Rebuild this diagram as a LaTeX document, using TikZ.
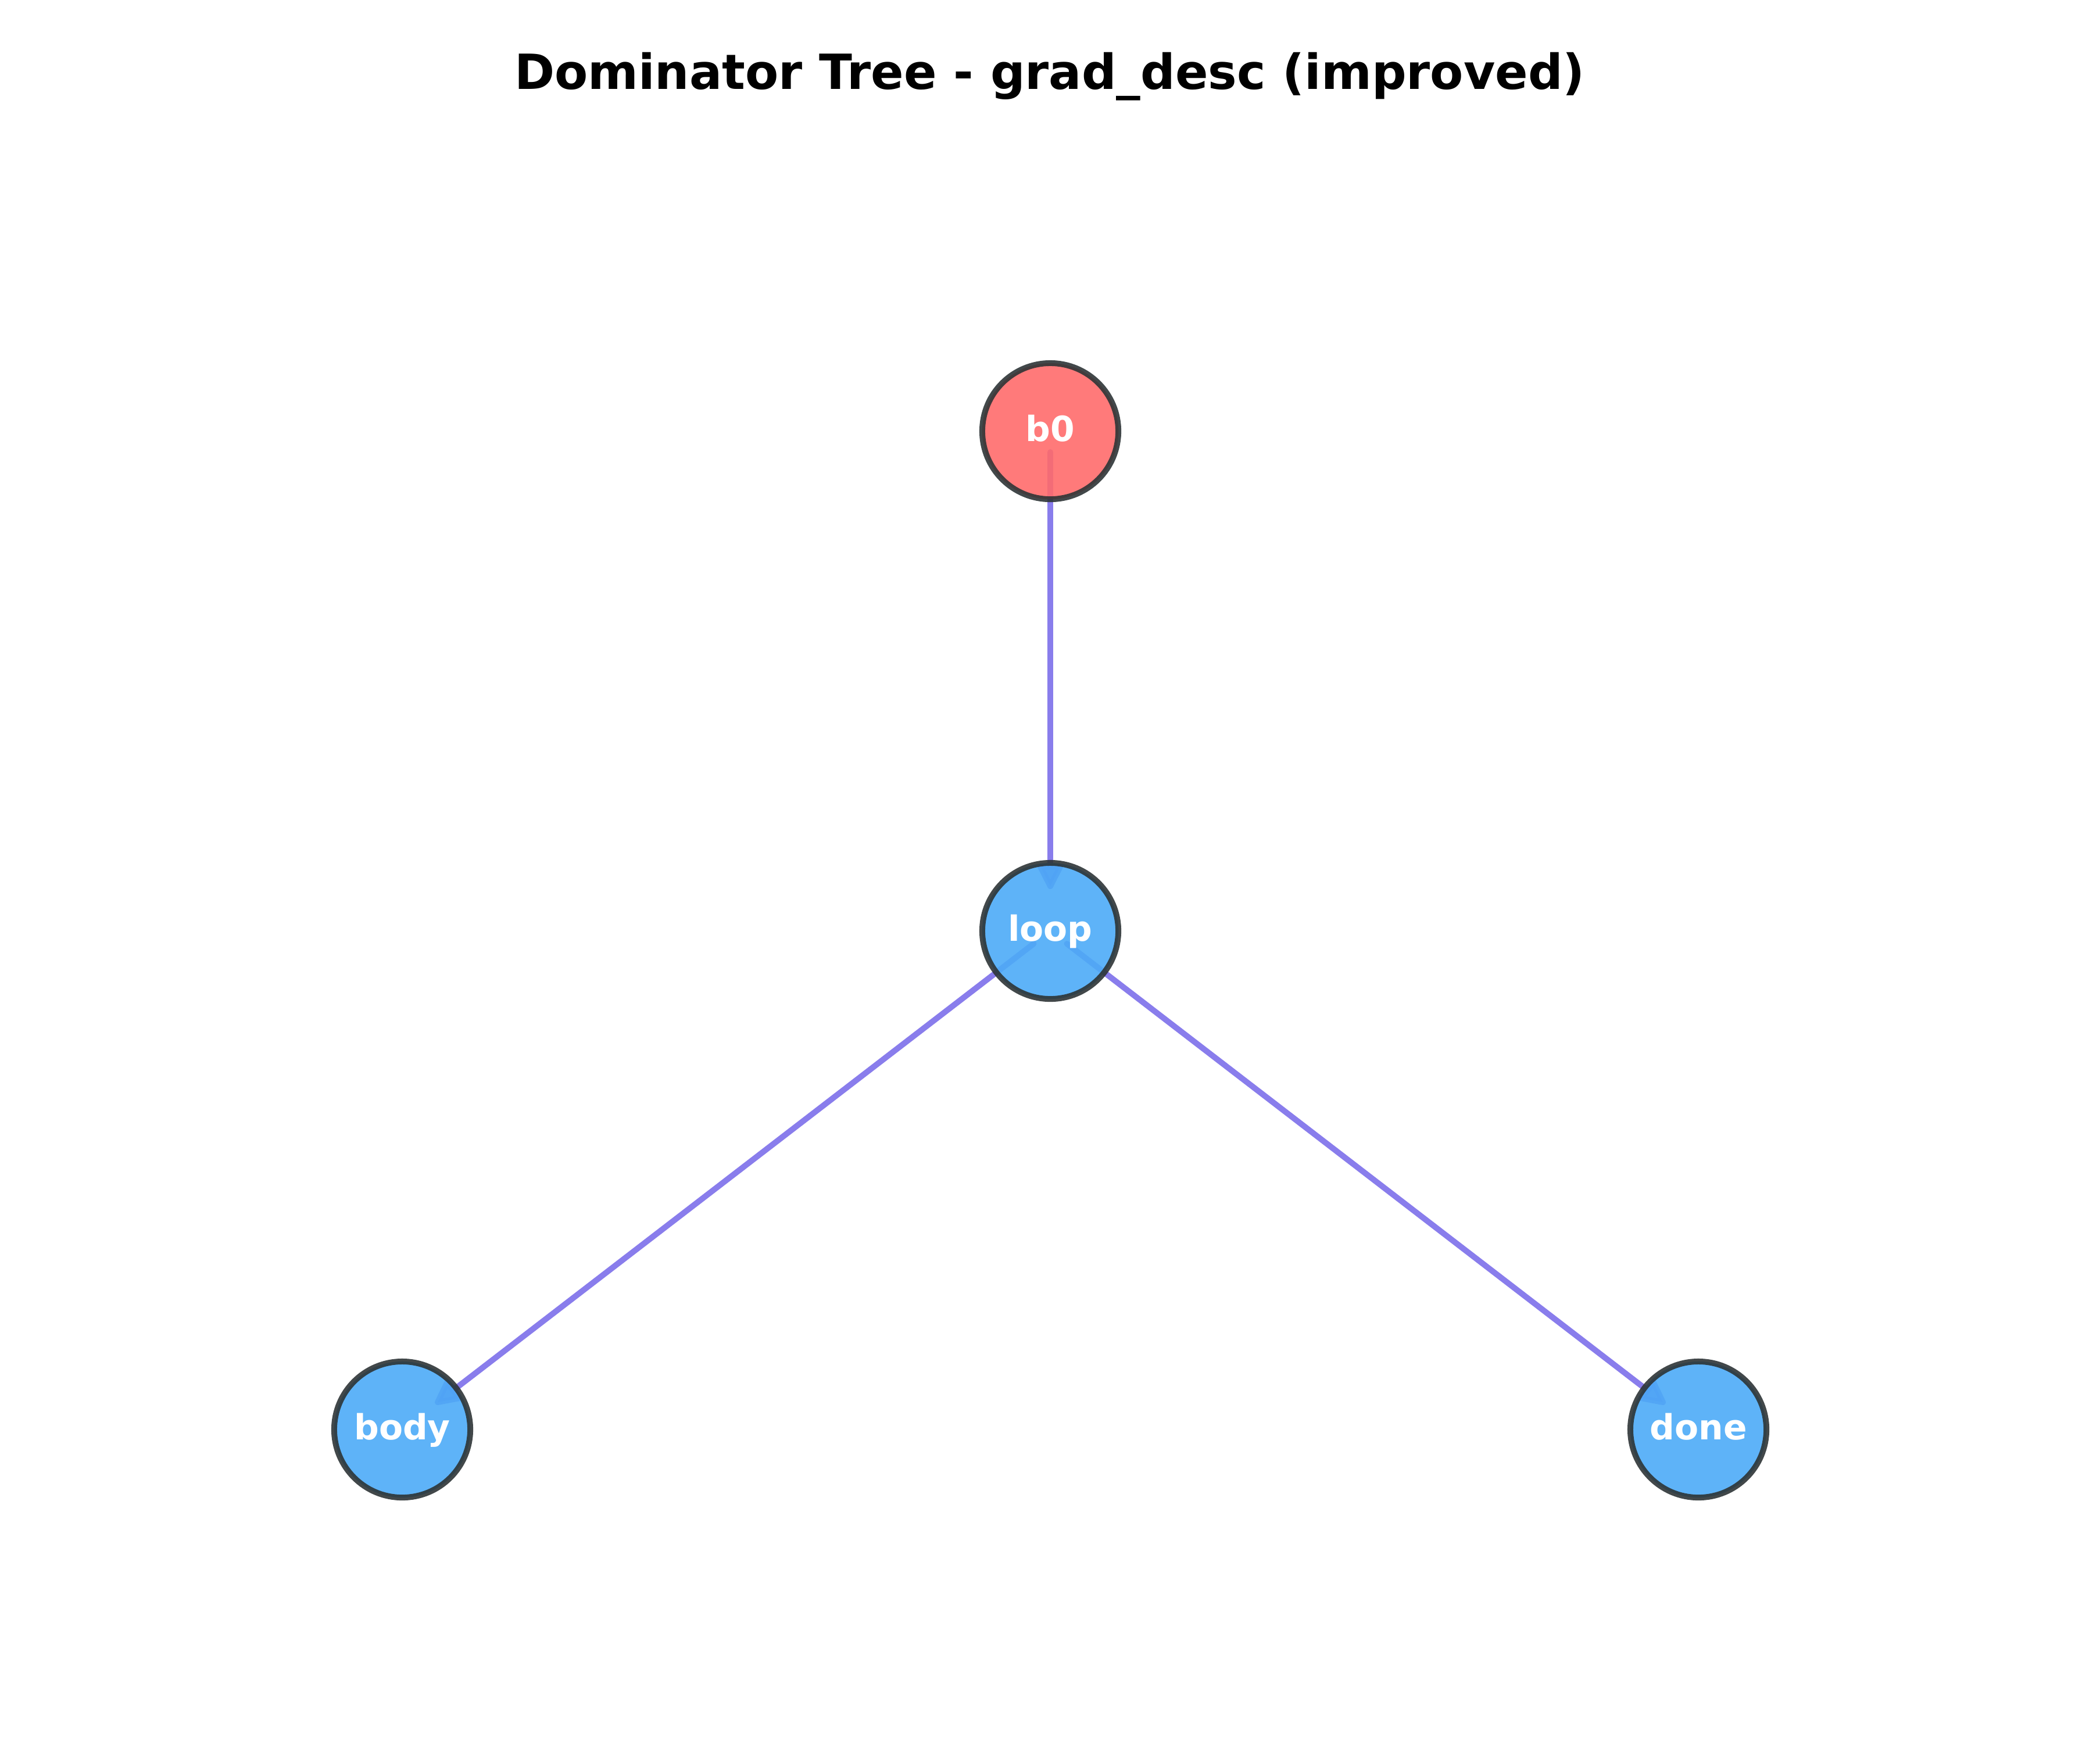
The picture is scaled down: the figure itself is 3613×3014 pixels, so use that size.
\documentclass[tikz,border=0pt]{standalone}
\usepackage{fontspec}
\setmainfont{DejaVu Sans}
\usetikzlibrary{arrows.meta,backgrounds}
\definecolor{entryred}{HTML}{FF6B6B}
\definecolor{blockblue}{HTML}{4DABF7}
\definecolor{rimgray}{HTML}{2D3436}
\definecolor{domedge}{HTML}{6C5CE7}
\tikzset{
  block/.style={circle,minimum size=2.34cm,inner sep=0pt,line width=0.1cm,
    draw=rimgray,draw opacity=0.9,fill opacity=0.9,text opacity=1,text=white,
    font=\bfseries\fontsize{17}{20}\selectfont,text height=0.34cm,text depth=0pt},
  domarrow/.style={domedge,opacity=0.8,line width=0.1cm,line cap=round,line join=round,
    -{Triangle[length=0.5cm,width=0.47cm,round]},shorten <=0.36cm,shorten >=0.72cm}
}
\begin{document}
\begin{tikzpicture}[x=0.01cm,y=-0.01cm]
    \useasboundingbox (0,0) rectangle (3613,3014);
    \node[anchor=base,font=\bfseries\fontsize{23.7}{28}\selectfont] (title) at (1806,153) {Dominator Tree - grad\_desc (improved)};
    \node[block,fill=entryred] (b0) at (1807,742) {b0};
    \node[block,fill=blockblue] (loop) at (1807,1602) {loop};
    \node[block,fill=blockblue] (body) at (692,2460) {body};
    \node[block,fill=blockblue] (done) at (2922,2460) {done};
    \begin{pgfonlayer}{background}
    \draw[domarrow] (b0.center) -- (loop.center);
    \draw[domarrow] (loop.center) -- (body.center);
    \draw[domarrow] (loop.center) -- (done.center);
    \end{pgfonlayer}
\end{tikzpicture}
\end{document}
